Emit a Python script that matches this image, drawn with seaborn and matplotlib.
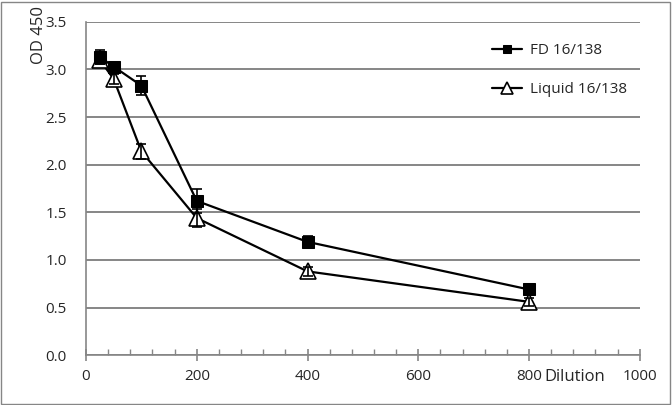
import pandas as pd
import matplotlib.pyplot as plt
import matplotlib.patches as mpatches
from matplotlib.ticker import MultipleLocator
import seaborn as sns

# data
dilution = [25, 50, 100, 200, 400, 800]
fd_od = [3.13, 3.03, 2.83, 1.62, 1.19, 0.69]
fd_err = [0.07, 0.03, 0.10, 0.13, 0.06, 0.03]
liquid_od = [3.10, 2.90, 2.14, 1.44, 0.88, 0.56]
liquid_err = [0.04, 0.05, 0.08, 0.09, 0.05, 0.04]
series_names = ["FD 16/138", "Liquid 16/138"]

GRID = "#868686"

sns.set_theme(style="white")
plt.rcParams["font.family"] = ["Open Sans", "DejaVu Sans"]

df = pd.DataFrame({
    "dilution": dilution * 2,
    "od": fd_od + liquid_od,
    "err": fd_err + liquid_err,
    "series": [series_names[0]] * 6 + [series_names[1]] * 6,
})

fig = plt.figure(figsize=(6.72, 4.05), dpi=100)
ax = fig.add_axes([0.128, 0.123, 0.824, 0.823])

liq = df[df["series"] == series_names[1]]
fd = df[df["series"] == series_names[0]]

sns.lineplot(data=liq, x="dilution", y="od", ax=ax, color="black", lw=1.6,
             marker="^", markersize=12, markerfacecolor="white",
             markeredgecolor="black", markeredgewidth=1.2, label=series_names[1], zorder=3)
sns.lineplot(data=fd, x="dilution", y="od", ax=ax, color="black", lw=1.6,
             marker="s", markersize=8, markerfacecolor="black",
             markeredgecolor="black", label=series_names[0], zorder=4)
for sub in (liq, fd):
    ax.errorbar(sub["dilution"], sub["od"], yerr=sub["err"], fmt="none",
                ecolor="black", elinewidth=1.2, capsize=3.5, capthick=1.2, zorder=5)

ax.set_xlim(0, 1000)
ax.set_ylim(0, 3.5)
ax.xaxis.set_major_locator(MultipleLocator(200))
ax.xaxis.set_minor_locator(MultipleLocator(40))
ax.yaxis.set_major_locator(MultipleLocator(0.5))
ax.yaxis.set_major_formatter(plt.FuncFormatter(lambda v, _: f"{v:.1f}"))
ax.grid(axis="y", color=GRID, lw=1.4)
ax.set_axisbelow(True)
for s in ("top", "right"):
    ax.spines[s].set_visible(False)
for s in ("left", "bottom"):
    ax.spines[s].set_color(GRID)
    ax.spines[s].set_linewidth(1.2)
ax.tick_params(axis="x", which="major", direction="inout", length=8, width=1.2,
               color=GRID, labelsize=11, pad=6, bottom=True)
ax.tick_params(axis="x", which="minor", direction="in", length=4, width=1.0,
               color=GRID, bottom=True)
ax.tick_params(axis="y", left=False, labelsize=11, pad=8)

ax.set_xlabel("")
ax.set_ylabel("")
fig.text(0.058, 0.985, "OD 450", rotation=90, ha="center", va="top", fontsize=12)
fig.text(0.855, 0.05, "Dilution", ha="center", va="bottom", fontsize=12)

h, l = ax.get_legend_handles_labels()
order = [l.index(series_names[0]), l.index(series_names[1])]
ax.legend([h[i] for i in order], [l[i] for i in order], loc="upper left",
          bbox_to_anchor=(0.722, 0.955), frameon=False, fontsize=11,
          handlelength=2.0, handletextpad=0.5, labelspacing=1.6,
          markerscale=0.7, borderaxespad=0)

fig.patches.append(mpatches.Rectangle((0.002, 0.003), 0.995, 0.993, transform=fig.transFigure,
                                      fill=False, edgecolor=GRID, lw=1.0))

fig.savefig("out.png", dpi=100)
